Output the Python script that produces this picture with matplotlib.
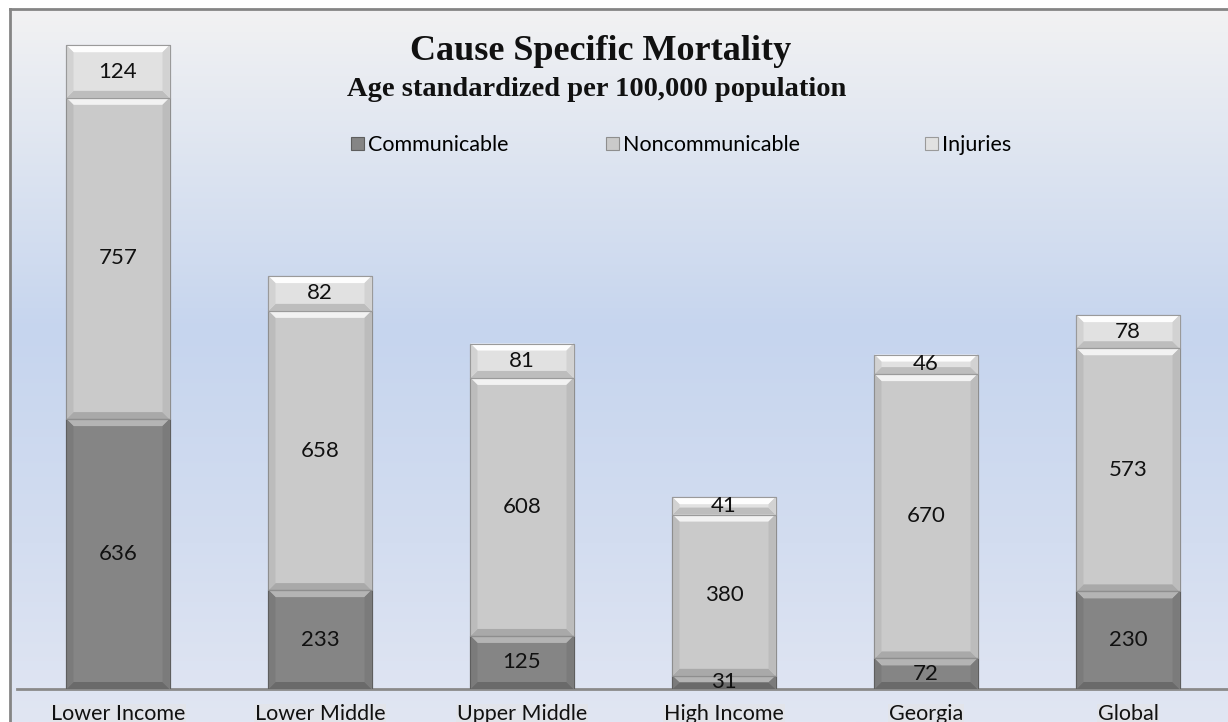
import numpy as np
import matplotlib.pyplot as plt
from matplotlib.colors import LinearSegmentedColormap
from matplotlib.patches import Polygon, Patch
from matplotlib.lines import Line2D

# data
categories = ["Lower Income", "Lower Middle", "Upper Middle", "High Income", "Georgia", "Global"]
communicable = [636, 233, 125, 31, 72, 230]
noncommunicable = [757, 658, 608, 380, 670, 573]
injuries = [124, 82, 81, 41, 46, 78]
series_names = ["Communicable", "Noncommunicable", "Injuries"]

# face, top bevel, bottom bevel, side, edge
styles = {
    "Communicable": ("#858585", "#b4b4b4", "#6a6a6a", "#7b7b7b", "#5e5e5e"),
    "Noncommunicable": ("#cacaca", "#f2f2f2", "#a9a9a9", "#bcbcbc", "#8e8e8e"),
    "Injuries": ("#e1e1e1", "#fdfdfd", "#bdbdbd", "#d2d2d2", "#9a9a9a"),
}

plt.rcParams["font.family"] = ["Lato", "DejaVu Sans"]
W, H = 1228, 722
fig = plt.figure(figsize=(W / 100, H / 100), dpi=100)
fig.patch.set_facecolor("white")

# gradient background inside the chart border
bg = fig.add_axes([10 / W, 0, 1 - 10 / W, 1 - 9 / H], zorder=-5)
cmap = LinearSegmentedColormap.from_list(
    "bg", [(0, "#f2f2f3"), (0.45, "#c6d5ee"), (0.75, "#d3ddf0"), (1.0, "#e1e6f3")]
)
grad = np.linspace(0, 1, 256).reshape(-1, 1)
bg.imshow(grad, aspect="auto", cmap=cmap, extent=[0, 1, 0, 1], origin="upper")
bg.axis("off")

fig.add_artist(Line2D([10 / W, 10 / W], [0, 1 - 9 / H], transform=fig.transFigure,
                      color="#858585", lw=2))
fig.add_artist(Line2D([10 / W, 1], [1 - 9 / H, 1 - 9 / H], transform=fig.transFigure,
                      color="#858585", lw=2))

ax_left, ax_right = 17, 1229
ax_bottom, ax_top = 689, 10
ax = fig.add_axes([ax_left / W, (H - ax_bottom) / H, (ax_right - ax_left) / W,
                   (ax_bottom - ax_top) / H])
ax.set_facecolor("none")
ax.set_xlim(-0.5, 5.5)
ax.set_ylim(0, 1600)

x = np.arange(len(categories))
width = 0.51
px_x = (ax_right - ax_left) / 6.0
px_y = (ax_bottom - ax_top) / 1600.0
bev_x = 7 / px_x
bev_y = 7 / px_y


def bevel_bar(xc, y0, h, name):
    face, top, bot, side, edge = styles[name]
    x0, x1 = xc - width / 2, xc + width / 2
    y1 = y0 + h
    dy = min(bev_y, h / 2.0)
    dx = bev_x
    ax.bar(xc, h, width, bottom=y0, color=face, edgecolor=edge, linewidth=0.8, zorder=2)
    polys = [
        ([(x0, y1), (x1, y1), (x1 - dx, y1 - dy), (x0 + dx, y1 - dy)], top),
        ([(x0, y0), (x1, y0), (x1 - dx, y0 + dy), (x0 + dx, y0 + dy)], bot),
        ([(x0, y0), (x0 + dx, y0 + dy), (x0 + dx, y1 - dy), (x0, y1)], side),
        ([(x1, y0), (x1 - dx, y0 + dy), (x1 - dx, y1 - dy), (x1, y1)], side),
    ]
    for pts, c in polys:
        ax.add_patch(Polygon(pts, closed=True, facecolor=c, edgecolor="none", zorder=3))
    ax.add_patch(Polygon([(x0, y0), (x1, y0), (x1, y1), (x0, y1)], closed=True,
                         facecolor="none", edgecolor=edge, linewidth=0.8, zorder=4))
    ax.text(xc, y0 + h / 2, str(h), ha="center", va="center", fontsize=16,
            color="#111111", zorder=5)


bottoms = np.zeros(len(categories))
for name, vals in zip(series_names, [communicable, noncommunicable, injuries]):
    for i, v in enumerate(vals):
        bevel_bar(x[i], bottoms[i], v, name)
    bottoms += np.array(vals)

for s in ["top", "left", "right"]:
    ax.spines[s].set_visible(False)
ax.spines["bottom"].set_color("#8a8a8a")
ax.spines["bottom"].set_linewidth(2)
ax.set_yticks([])
ax.set_xticks(x)
ax.set_xticklabels(categories, fontsize=15.5, color="#111111")
ax.tick_params(axis="x", length=0, pad=11)
for t in ax.get_xticklabels():
    t.set_bbox(dict(facecolor="#e2e4ea", edgecolor="none", pad=0.5))

fig.text(601 / W, 1 - 52 / H, "Cause Specific Mortality", ha="center", va="center",
         fontsize=26, fontweight="bold", family=["Liberation Serif"], color="#111111")
fig.text(597 / W, 1 - 90 / H, "Age standardized per 100,000 population", ha="center",
         va="center", fontsize=20.5, fontweight="bold", family=["Liberation Serif"],
         color="#111111")

# legend entries placed one by one, as in the reference
legend_x = [351, 606, 925]
for n, lx in zip(series_names, legend_x):
    h = Patch(facecolor=styles[n][0], edgecolor=styles[n][4], linewidth=0.8)
    fig.legend([h], [n], loc="center left", bbox_to_anchor=(lx / W, 1 - 145 / H),
               frameon=False, fontsize=15.5, handlelength=0.6, handleheight=0.6,
               handletextpad=0.2, borderpad=0, borderaxespad=0)

fig.savefig("out.png", dpi=100)
